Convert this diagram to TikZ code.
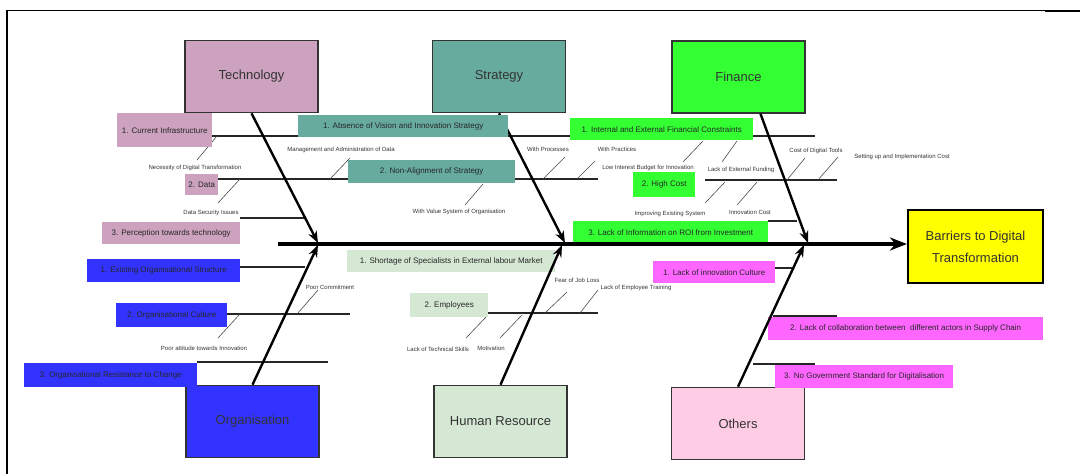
\documentclass[tikz,border=0pt]{standalone}
\usepackage{fontspec}
\setmainfont{Liberation Sans}
\usepackage{xcolor}
\usetikzlibrary{arrows.meta}

\definecolor{techcol}{HTML}{CDA2BE}
\definecolor{stratcol}{HTML}{67AB9F}
\definecolor{fincol}{HTML}{33FF33}
\definecolor{orgcol}{HTML}{3333FF}
\definecolor{hrcol}{HTML}{D5E8D4}
\definecolor{othcol}{HTML}{FFCCE6}
\definecolor{othlab}{HTML}{FF66FF}
\definecolor{goalcol}{HTML}{FFFF00}

\tikzset{
  catbox/.style={draw=black!80, line width=1.6pt, minimum width=133pt, minimum height=72pt,
    inner sep=0pt, font=\fontsize{13}{15}\selectfont, text=black!80},
  cause/.style={anchor=north west, inner sep=0pt, font=\fontsize{8}{9}\selectfont, text=black!85},
  subcause/.style={inner sep=0pt, font=\fontsize{6}{7}\selectfont, text=black!80},
  rib/.style={line width=1.4pt, black!85},
  twig/.style={line width=0.6pt, black!70},
  bone/.style={line width=2.4pt, -{Stealth[length=12pt,width=9pt]}},
}

\begin{document}
\begin{tikzpicture}[x=1pt,y=-1pt]
  \useasboundingbox (0,0) rectangle (1080,474);
  % Frame
  \draw[line width=2pt] (7,10) -- (7,474);
  \draw[line width=0.8pt] (7,10) -- (1045,10);
  \draw[line width=2pt] (1045,10.5) -- (1080,10.5);

  % Categories
  \node[catbox, fill=techcol] (tech) at (251.5,76.5) {Technology};
  \node[catbox, fill=stratcol] (strat) at (499,76.5) {Strategy};
  \node[catbox, fill=fincol] (fin) at (738.5,77) {Finance};
  \node[catbox, fill=orgcol] (org) at (252.5,421.5) {Organisation};
  \node[catbox, fill=hrcol] (hr) at (500.5,421.5) {Human Resource};
  \node[catbox, fill=othcol] (oth) at (738,423.5) {Others};
  % Effect
  \node[draw=black, line width=2.2pt, fill=goalcol, minimum width=135pt, minimum height=73pt,
    inner sep=0pt, align=center, text=black!80, font=\fontsize{13}{22}\selectfont]
    (goal) at (975.5,246.5) {Barriers to Digital\\Transformation};

  % Joins on the spine
  \coordinate (tail) at (278,244);
  \coordinate (techjoin) at (318,243);
  \coordinate (stratjoin) at (565,243);
  \coordinate (finjoin) at (808,243);
  \coordinate (orgjoin) at (318,245);
  \coordinate (hrjoin) at (562,245);
  \coordinate (othjoin) at (804,245);

  % Ribs
  \draw[rib] (212,136) -- (815,136);
  \draw[rib] (218,179) -- (598,179);
  \draw[rib] (705,180) -- (837,180);
  \draw[rib] (240,218) -- (305,218);
  \draw[rib] (768,221) -- (797,221);
  \draw[rib] (240,267) -- (305,267);
  \draw[rib] (227,314) -- (350,314);
  \draw[rib] (197,362) -- (328,362);
  \draw[rib] (488,313) -- (598,313);
  \draw[rib] (775,268) -- (793,268);
  \draw[rib] (773,316) -- (837,316);
  \draw[rib] (753,364) -- (815,364);

  % Twigs with their labels
  \draw[twig] (217,136) -- (197,160);
  \node[subcause] (necessity) at (195,168) {Necessity of Digital Transformation};
  \draw[twig] (240,179) -- (218,203);
  \node[subcause] (security) at (211,213) {Data Security Issues};
  \draw[twig] (330,179) -- (350,158);
  \node[subcause] (management) at (341,150) {Management and Administration of Data};
  \draw[twig] (483,184) -- (465,205);
  \node[subcause] (valuesys) at (459,212) {With Value System of Organisation};
  \draw[twig] (543,179) -- (565,157);
  \node[subcause] (processes) at (548,149) {With Processes};
  \draw[twig] (577,179) -- (595,161);
  \node[subcause] (practices) at (617,149) {With Practices};
  \draw[twig] (703,141) -- (683,162);
  \node[subcause] (lowbudget) at (648,168) {Low Interest Budget for Innovation};
  \draw[twig] (737,141) -- (722,162);
  \node[subcause] (funding) at (741,170) {Lack of External Funding};
  \draw[twig] (787,180) -- (805,158);
  \node[subcause] (tools) at (816,151) {Cost of Digital Tools};
  \draw[twig] (818,180) -- (838,157);
  \node[subcause] (setup) at (902,157) {Setting up and Implementation Cost};
  \draw[twig] (725,182) -- (705,203);
  \node[subcause] (existing) at (670,214) {Improving Existing System};
  \draw[twig] (757,182) -- (737,205);
  \node[subcause] (innocost) at (750,212) {Innovation Cost};
  \draw[twig] (240,314) -- (218,338);
  \node[subcause] (attitude) at (204,348) {Poor attitude towards Innovation};
  \draw[twig] (298,313) -- (318,290);
  \node[subcause] (commitment) at (330,287) {Poor Commitment};
  \draw[twig] (487,316) -- (466,338);
  \node[subcause] (skills) at (438,349) {Lack of Technical Skills};
  \draw[twig] (522,315) -- (500,338);
  \node[subcause] (motivation) at (491,348) {Motivation};
  \draw[twig] (545,313) -- (567,292);
  \node[subcause] (jobloss) at (577,280) {Fear of Job Loss};
  \draw[twig] (580,313) -- (598,290);
  \node[subcause] (training) at (636,288) {Lack of Employee Training};

  % Strategy bone runs under its first cause
  \draw[bone] (strat.south) -- (stratjoin);

  % Causes
  \node[cause, fill=techcol, minimum width=95pt, minimum height=34pt] (infra) at (117,113) {1. Current Infrastructure};
  \node[cause, fill=techcol, minimum width=33pt, minimum height=21pt] (data) at (185,174) {2. Data};
  \node[cause, fill=techcol, minimum width=138pt, minimum height=22pt] (perception) at (102,222) {3. Perception towards technology};
  \node[cause, fill=stratcol, minimum width=210pt, minimum height=22pt] (vision) at (298,115) {1. Absence of Vision and Innovation Strategy};
  \node[cause, fill=stratcol, minimum width=167pt, minimum height=23pt] (alignment) at (348,160) {2. Non-Alignment of Strategy};
  \node[cause, fill=fincol, minimum width=183pt, minimum height=22pt] (constraints) at (570,118) {1. Internal and External Financial Constraints};
  \node[cause, fill=fincol, minimum width=62pt, minimum height=25pt] (highcost) at (633,172) {2. High Cost};
  \node[cause, fill=fincol, minimum width=195pt, minimum height=23pt] (roi) at (573,221) {3. Lack of Information on ROI from Investment};
  \node[cause, fill=orgcol, minimum width=153pt, minimum height=23pt] (structure) at (87,259) {1. Existing Organisational Structure};
  \node[cause, fill=orgcol, minimum width=111pt, minimum height=24pt] (culture) at (116,303) {2. Organisational Culture};
  \node[cause, fill=orgcol, minimum width=173pt, minimum height=24pt] (resistance) at (24,363) {3. Organisational Resistance to Change};
  \node[cause, fill=hrcol, minimum width=208pt, minimum height=22pt] (shortage) at (347,250) {1. Shortage of Specialists in External labour Market};
  \node[cause, fill=hrcol, minimum width=78pt, minimum height=24pt] (employees) at (410,293) {2. Employees};
  \node[cause, fill=othlab, minimum width=122pt, minimum height=22pt] (innoculture) at (653,261) {1. Lack of innovation Culture};
  \node[cause, fill=othlab, minimum width=275pt, minimum height=23pt] (collab) at (768,317) {2. Lack of collaboration between\ \ different actors in Supply Chain};
  \node[cause, fill=othlab, minimum width=178pt, minimum height=23pt] (standard) at (775,365) {3. No Government Standard for Digitalisation};

  % Bones
  \draw[bone] (tech.south) -- (techjoin);
  \draw[bone] ([xshift=22]fin.south) -- (finjoin);
  \draw[bone] (org.north) -- (orgjoin);
  \draw[bone] (hr.north) -- (hrjoin);
  \draw[bone] (oth.north) -- (othjoin);

  % Spine
  \draw[line width=3.5pt, -{Stealth[length=17pt,width=13pt]}] (tail) -- (goal.west |- tail);
\end{tikzpicture}
\end{document}
